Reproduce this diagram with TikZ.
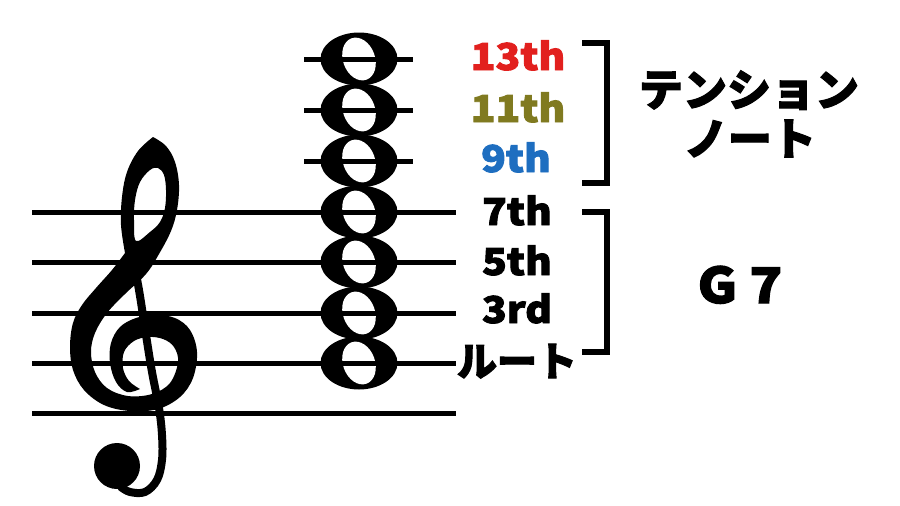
\documentclass[tikz,border=0pt]{standalone}
\usepackage{fontspec}
\usetikzlibrary{shapes.geometric}
\newfontfamily\jp{Noto Sans CJK JP}[BoldFont={Noto Sans CJK JP Black},BoldFeatures={FakeBold=2.5}]
\newfontfamily\jplat{Noto Sans CJK JP}[BoldFont={Noto Sans CJK JP Black},BoldFeatures={FakeBold=2.5,FakeStretch=1.1}]
\definecolor{cred}{RGB}{226,32,30}
\definecolor{colive}{RGB}{128,122,32}
\definecolor{cblue}{RGB}{30,110,192}
\begin{document}
\begin{tikzpicture}[x=1pt,y=-1pt,
  staffline/.style={line width=5pt},
  lbl/.style={font=\jplat\bfseries\fontsize{37}{37}\selectfont, anchor=base, inner sep=0pt},
  kana/.style={font=\jp\bfseries\fontsize{44}{44}\selectfont, anchor=base, inner sep=0pt},
  brk/.style={line width=5.5pt},
  ]
\useasboundingbox (0,0) rectangle (900,506);
\fill[white] (0,0) rectangle (900,506);

% treble clef
\fill[black,even odd rule]
  plot[smooth,tension=0.6] coordinates {(125,253) (121,225) (122,197) (127,172) (138,151) (153,137)}
  -- plot[smooth,tension=0.6] coordinates {(153,137) (166,146) (175,162) (179,185) (177,210) (171,231) (159,254) (146,274) (125,294) (107,313) (95,333) (91,352) (95,372) (107,388) (128,396) (152,394) (170,383) (178,362) (174,347) (163,339) (148,337) (134,341) (124,352) (123,368) (129,381) (140,389)}
  -- plot[smooth,tension=0.6] coordinates {(140,389) (127,392) (116,382) (110,363) (111,343) (120,327) (136,318) (155,315) (175,318) (190,330) (197,352) (193,378) (180,397) (158,409) (130,411) (104,405) (84,390) (73,370) (70,347) (73,323) (82,305) (96,288) (112,270) (125,253)}
  -- cycle
  plot[smooth cycle,tension=0.6] coordinates {(136,241) (134,220) (135,200) (140,182) (150,170) (158,168) (164,175) (166,190) (165,208) (160,222) (150,232)};
\draw[line width=8pt,line cap=round] plot[smooth,tension=0.6] coordinates {(129,240) (133,260) (139,290) (146,335) (152,372) (159,408) (162,435) (162,460) (157,480) (145,492) (130,492) (121,487)};
\node[circle,fill,minimum size=46pt,inner sep=0pt] (ball) at (117,466) {};

% notes
\foreach \n/\y in {n1/363,n2/313,n3/262,n4/212,n5/161,n6/110,n7/59} {
  \node[ellipse,fill,minimum width=77pt,minimum height=53pt,inner sep=0pt] (\n) at (359,\y) {};
  \fill[white,rotate around={20:(359,\y)}] (359,\y) ellipse [x radius=16, y radius=22];
}

% staff lines
\foreach \y in {212,262,313,363,413} \draw[staffline] (32,\y) -- (456,\y);
% ledger lines
\foreach \y in {59,110,161} \draw[staffline] (304,\y) -- (413,\y);

% labels
\node[lbl,text=cred] (l13) at (518,70) {13th};
\node[lbl,text=colive] (l11) at (518,122) {11th};
\node[lbl,text=cblue] (l9) at (516,172) {9th};
\node[lbl] (l7) at (517,225) {7th};
\node[lbl] (l5) at (517,275) {5th};
\node[lbl] (l3) at (517,323) {3rd};
\node[kana,font=\jp\bfseries\fontsize{40}{40}\selectfont] (lr) at (517,376) {ルート};

% brackets
\draw[brk] (582,43) -- (607,43) -- (607,183) -- (582,183);
\draw[brk] (582,212) -- (607,212) -- (607,352) -- (582,352);

\node[kana] (t1) at (749,106) {テンション};
\node[kana] (t2) at (750,155) {ノート};
\node[lbl,font=\jplat\bfseries\fontsize{49}{49}\selectfont] (g7) at (740,303) {G 7};
\end{tikzpicture}
\end{document}
